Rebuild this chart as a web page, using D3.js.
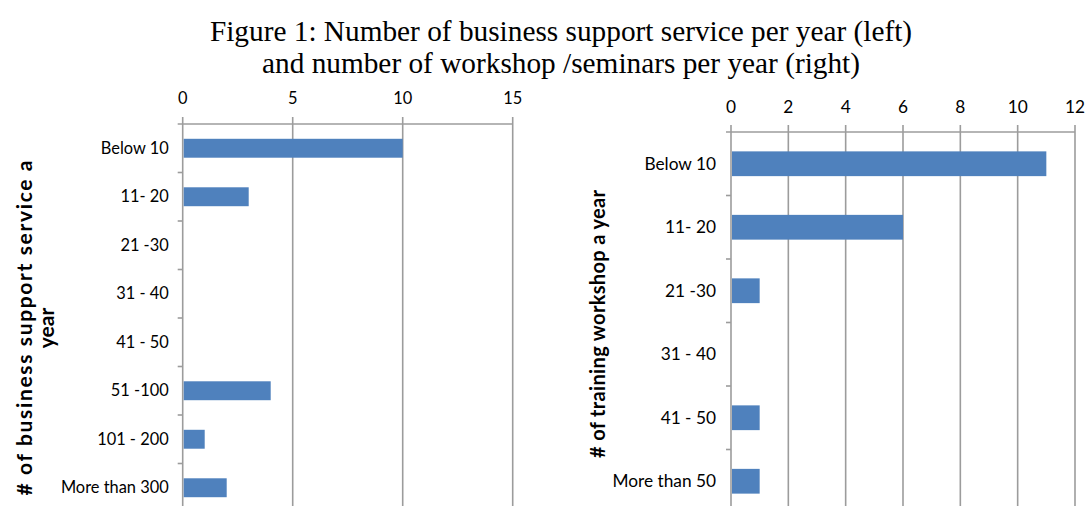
<!DOCTYPE html>
<html>
<head>
<meta charset="utf-8">
<script src="https://cdn.jsdelivr.net/npm/d3@7"></script>
<style>
  body { margin: 0; background: #fff; }
  svg { display: block; }
</style>
</head>
<body>
<div id="chart"></div>
<script>
const width = 1086;
const height = 506;

// data
const titleLines = [
    'Figure 1: Number of business support service per year (left)',
    'and number of workshop /seminars per year (right)'
];
const leftCategories = ['Below 10', '11- 20', '21 -30', '31 - 40', '41 - 50', '51 -100', '101 - 200', 'More than 300'];
const leftValues = [10, 3, 0, 0, 0, 4, 1, 2];
const leftTicks = [0, 5, 10, 15];
const leftTitle = ['# of business support service a', 'year'];

const rightCategories = ['Below 10', '11- 20', '21 -30', '31 - 40', '41 - 50', 'More than 50'];
const rightValues = [11, 6, 1, 0, 1, 1];
const rightTicks = [0, 2, 4, 6, 8, 10, 12];
const rightTitle = ['# of training workshop a year'];

const barColor = '#4f81bd';
const gridColor = '#9c9c9c';
const labelFont = 'Lato, "Open Sans", sans-serif';

const svg = d3.select('#chart')
    .append('svg')
    .attr('width', width)
    .attr('height', height)
    .style('background-color', '#fff');

// title
svg.append('g')
    .selectAll('text')
    .data(titleLines)
    .join('text')
    .attr('x', 561)
    .attr('y', (d, i) => 41 + i * 32)
    .attr('text-anchor', 'middle')
    .attr('font-family', '"Liberation Serif", "Times New Roman", serif')
    .attr('font-size', 29.3)
    .attr('fill', '#000')
    .text(d => d);

function drawPanel(opt) {
    const x = d3.scaleLinear()
        .domain([opt.ticks[0], opt.ticks[opt.ticks.length - 1]])
        .range([opt.left, opt.right]);
    const y = d3.scaleBand()
        .domain(opt.categories)
        .range([opt.top, opt.bottom])
        .padding(0);

    const g = svg.append('g');

    // vertical gridlines (incl. the value axis at 0)
    g.selectAll('line.grid')
        .data(opt.ticks)
        .join('line')
        .attr('class', 'grid')
        .attr('x1', d => x(d))
        .attr('x2', d => x(d))
        .attr('y1', opt.top - 7)
        .attr('y2', opt.bottom)
        .attr('stroke', gridColor)
        .attr('stroke-width', 1.6);

    // top axis line
    g.append('line')
        .attr('x1', opt.left - 5)
        .attr('x2', opt.right)
        .attr('y1', opt.top)
        .attr('y2', opt.top)
        .attr('stroke', gridColor)
        .attr('stroke-width', 1.6);

    // category tick marks between bands
    g.selectAll('line.ctick')
        .data(opt.categories.slice(1))
        .join('line')
        .attr('class', 'ctick')
        .attr('x1', opt.left - 5)
        .attr('x2', opt.left)
        .attr('y1', d => y(d))
        .attr('y2', d => y(d))
        .attr('stroke', gridColor)
        .attr('stroke-width', 1.6);

    // tick labels on top
    g.selectAll('text.xtick')
        .data(opt.ticks)
        .join('text')
        .attr('class', 'xtick')
        .attr('x', d => x(d))
        .attr('y', opt.tickY)
        .attr('text-anchor', 'middle')
        .attr('font-family', labelFont)
        .attr('font-size', opt.fontSize)
        .attr('fill', '#000')
        .text(d => d);

    // bars
    const barH = y.bandwidth() * 0.39;
    g.selectAll('rect.bar')
        .data(opt.values)
        .join('rect')
        .attr('class', 'bar')
        .attr('x', x(0) + 1)
        .attr('y', (d, i) => y(opt.categories[i]) + (y.bandwidth() - barH) / 2)
        .attr('width', d => Math.max(0, x(d) - x(0) - 1))
        .attr('height', barH)
        .attr('fill', barColor);

    // category labels
    g.selectAll('text.cat')
        .data(opt.categories)
        .join('text')
        .attr('class', 'cat')
        .attr('x', opt.left - opt.labelGap)
        .attr('y', d => y(d) + y.bandwidth() / 2)
        .attr('dy', '0.35em')
        .attr('text-anchor', 'end')
        .attr('font-family', labelFont)
        .attr('font-size', opt.fontSize)
        .attr('fill', '#000')
        .text(d => d);

    // rotated axis title
    const t = g.append('text')
        .attr('transform', `translate(${opt.titleX},${opt.titleY}) rotate(-90)`)
        .attr('text-anchor', 'middle')
        .attr('font-family', labelFont)
        .attr('font-weight', 'bold')
        .attr('font-size', opt.titleSize)
        .attr('fill', '#000');
    opt.title.forEach((line, i) => {
        const ts = t.append('tspan')
            .attr('x', 0)
            .attr('dy', i === 0 ? 0 : 22)
            .text(line);
        if (i === 0) ts.attr('textLength', opt.titleLen).attr('lengthAdjust', 'spacing');
    });
}

drawPanel({
    categories: leftCategories,
    values: leftValues,
    ticks: leftTicks,
    title: leftTitle,
    left: 182.7, right: 512.7,
    top: 124, bottom: 512,
    tickY: 104,
    fontSize: 16.4,
    labelGap: 14,
    titleX: 32, titleY: 328,
    titleSize: 21,
    titleLen: 335
});

drawPanel({
    categories: rightCategories,
    values: rightValues,
    ticks: rightTicks,
    title: rightTitle,
    left: 731, right: 1075,
    top: 132, bottom: 513,
    tickY: 113,
    fontSize: 17.3,
    labelGap: 15,
    titleX: 605, titleY: 324,
    titleSize: 20,
    titleLen: 268
});
</script>
</body>
</html>
